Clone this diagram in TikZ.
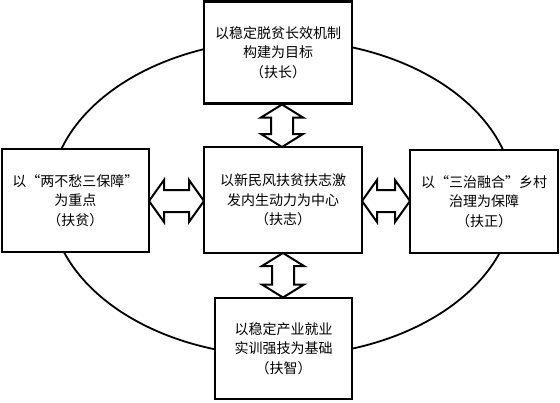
\documentclass[tikz,border=0pt]{standalone}
\usepackage{fontspec}
\setmainfont{Noto Sans CJK SC}
\usetikzlibrary{calc}
\newcommand\hdarrow[3]{% x1, x2, yc
  \draw[arrowbody] (#1,#3) -- ++(15,-21) -- ++(0,10) -- (#2-15,#3-11) -- ++(0,-10) -- (#2,#3)
    -- ++(-15,21) -- ++(0,-10) -- (#1+15,#3+11) -- ++(0,10) -- cycle;}
\newcommand\vdarrow[3]{% y1, y2, xc
  \draw[arrowbody] (#3,#1) -- ++(-21,13) -- ++(10,0) -- (#3-11,#2-13) -- ++(-10,0) -- (#3,#2)
    -- ++(21,-13) -- ++(-10,0) -- (#3+11,#1+13) -- ++(10,0) -- cycle;}
\begin{document}
\begin{tikzpicture}[x=1pt,y=-1pt,
  box/.style={draw, line width=2.4pt, fill=white, align=center, inner sep=0pt,
    font=\fontsize{14}{19.5}\selectfont},
  arrowbody/.style={draw, line width=2pt, fill=white, line join=miter},
  ring/.style={draw, line width=1.8pt}]
\useasboundingbox (0,0) rectangle (560,402);
\draw[ring] (282,198) ellipse [x radius=232, y radius=158];
\node[box, minimum width=148pt, minimum height=102pt] (T) at (278,52.5)
  {以稳定脱贫长效机制\\构建为目标\\（扶长）};
\node[box, minimum width=147pt, minimum height=103pt] (L) at (75.5,200.5)
  {以“两不愁三保障”\\为重点\\（扶贫）};
\node[box, minimum width=158pt, minimum height=106pt] (C) at (283,200)
  {以新民风扶贫扶志激\\发内生动力为中心\\（扶志）};
\node[box, minimum width=148pt, minimum height=103pt] (R) at (484,201.5)
  {以“三治融合”乡村\\治理为保障\\（扶正）};
\node[box, minimum width=137pt, minimum height=101pt] (B) at (283.5,348.5)
  {以稳定产业就业\\实训强技为基础\\（扶智）};
\vdarrow{104.5}{147}{282}
\vdarrow{253}{297.5}{283}
\hdarrow{149}{204}{201}
\hdarrow{362}{410}{201}
\end{tikzpicture}
\end{document}
